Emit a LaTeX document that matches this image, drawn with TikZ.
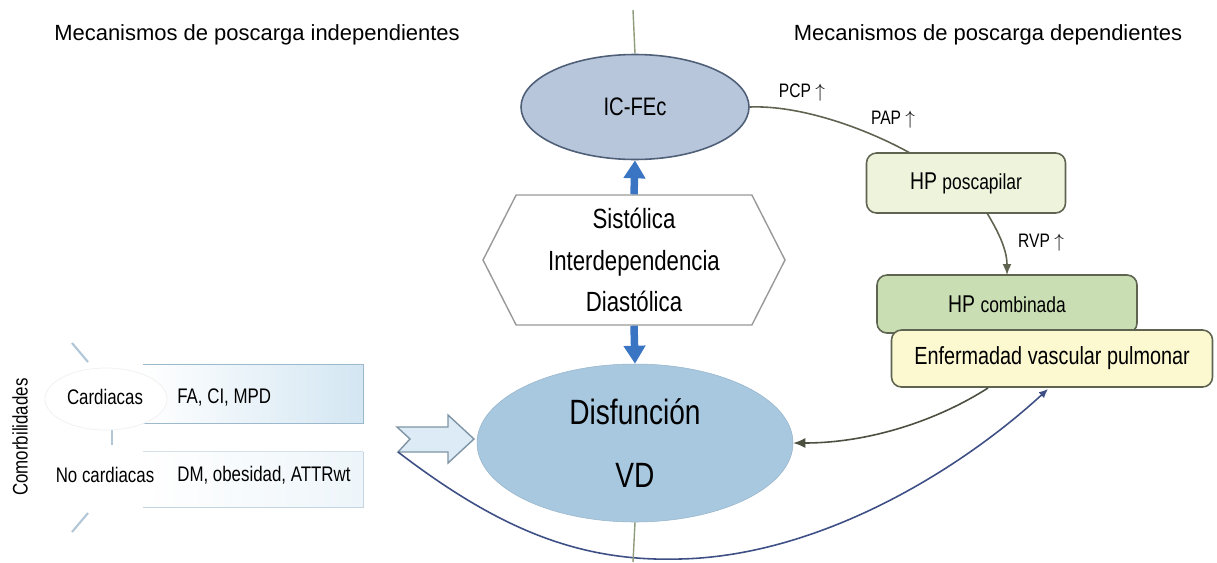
\documentclass[tikz,border=0pt]{standalone}
\usepackage{fontspec}
\setmainfont{Liberation Sans}[FakeStretch=0.8]
\newfontfamily\titlefont{Liberation Sans}
\usetikzlibrary{shapes.geometric,shapes.symbols,arrows.meta,calc}

\definecolor{ovalgrey}{HTML}{B7C6DA}
\definecolor{ovalline}{HTML}{4F5F78}
\definecolor{vdblue}{HTML}{A8C8E0}
\definecolor{thickblue}{HTML}{3A75C4}
\definecolor{axisline}{HTML}{8E9C7C}
\definecolor{paleg}{HTML}{EEF3DC}
\definecolor{midg}{HTML}{C9DFB3}
\definecolor{paley}{HTML}{FCF8D0}
\definecolor{boxline}{HTML}{5E6450}
\definecolor{barblue}{HTML}{D3E6F2}
\definecolor{barline}{HTML}{9DB9CE}
\definecolor{navy}{HTML}{3E4F86}

\begin{document}
\begin{tikzpicture}[x=0.2mm, y=-0.2mm]
    \tikzstyle{every node} = [align=center, inner sep=0pt]
    \tikzstyle{headline} = [font=\titlefont\fontsize{12.5}{15}\selectfont]
    \tikzstyle{hpbox} = [draw=boxline, line width=0.9pt, rounded corners=2mm]
    \tikzstyle{small} = [font=\fontsize{11.1}{13}\selectfont]
    \tikzstyle{side} = [font=\fontsize{12}{14}\selectfont]
    \tikzstyle{bigarrow} = [draw=thickblue, line width=1.5mm, -{Triangle[width=4.2mm,length=3.6mm]}]
    \useasboundingbox (0,0) rectangle (1217,562);

    % titles
    \node [headline] (tindep) at (257,35) {Mecanismos de poscarga independientes};
    \node [headline] (tdep) at (988,35) {Mecanismos de poscarga dependientes};

    % centre column
    \node [ellipse, fill=ovalgrey, draw=ovalline, line width=0.9pt, minimum width=45.6mm, minimum height=21mm,
        font=\fontsize{14.4}{17}\selectfont] (icfec) at (635,107) {IC-FEc};
    \node [signal, signal to=west and east, signal pointer angle=126, draw=gray!80, line width=0.8pt, fill=white,
        minimum width=60.4mm, minimum height=26mm, font=\fontsize{15.8}{23.6}\selectfont] (hexa) at (634,260)
        {Sistólica\\Interdependencia\\Diastólica};
    \node [ellipse, fill=vdblue, draw=vdblue!90!black, line width=0.3pt, minimum width=63.2mm, minimum height=31.6mm,
        font=\fontsize{20}{36}\selectfont] (disf) at (635,443) {Disfunción\\VD};
    \coordinate (topend) at (633,10);
    \coordinate (botend) at (633,562);
    \draw [axisline, line width=0.8pt] (topend) -- (icfec.north);
    \draw [bigarrow] (hexa.north) -- (icfec.south);
    \draw [bigarrow] (hexa.south) -- (disf.north);

    % comorbidities
    \node [rotate=90, side] (comorb) at (20,437) {Comorbilidades};
    \node [minimum width=44mm, minimum height=11.6mm, left color=white, right color=barblue] (bar1) at (253,394) {};
    \node [minimum width=44mm, minimum height=11mm, left color=white, right color=barblue!40] (bar2) at (253,479.5) {};
    \draw [barline, line width=0.9pt] (bar1.north west) -- (bar1.north east) -- (bar1.south east) -- (bar1.south west);
    \draw [barline!45, line width=0.9pt] (bar2.north west) -- (bar2.north east);
    \draw [barline!60, line width=0.9pt] (bar2.north east) -- (bar2.south east) -- (bar2.south west);
    \draw [barline!80, line width=1.2pt] (72,343) -- (88,362);
    \draw [barline!80, line width=1.2pt] (112,430) -- (112,445);
    \draw [barline!80, line width=1.2pt] (72,532) -- (88,513);
    \node [ellipse, fill=white, draw=gray!12, minimum width=24.4mm, minimum height=12.4mm] (cardov) at (106,399) {};
    \node [ellipse, fill=white, minimum width=23.4mm, minimum height=12mm] (nocardov) at (101,482) {};
    \node [side] (card) at (105,397) {Cardiacas};
    \node [side] (nocard) at (105,475) {No cardiacas};
    \node [side, anchor=west] (cardlist) at (177,397) {FA, CI, MPD};
    \node [side, anchor=west] (nocardlist) at (177,475) {DM, obesidad, ATTRwt};

    % hollow arrow into RV dysfunction
    \draw [fill=barblue!80, draw=barline!80!black, line width=0.8pt]
        (397,427) -- (448,427) -- (448,415) -- (474,439) -- (448,463) -- (448,452) -- (398,452) -- (410,439) -- cycle;
    \coordinate (tail) at (398,452);

    % afterload dependent side
    \node [hpbox, fill=paleg, minimum width=39.8mm, minimum height=12mm] (hppos) at (966,183)
        {\fontsize{13.8}{16}\selectfont HP \fontsize{12.4}{15}\selectfont poscapilar};
    \node [hpbox, fill=midg, minimum width=52mm, minimum height=11.6mm] (hpcomb) at (1007,304)
        {\fontsize{13.8}{16}\selectfont HP \fontsize{12.4}{15}\selectfont combinada};
    \node [hpbox, fill=paley, minimum width=64.2mm, minimum height=11.4mm, font=\fontsize{14.1}{17}\selectfont]
        (evp) at (1052,358.5) {Enfermadad vascular pulmonar};
    \coordinate (posin) at (910,153);
    \coordinate (posout) at (987,213);
    \coordinate (combin) at (1007,275);
    \coordinate (evpout) at (988,388);
    \coordinate (evpin) at (1048,389);

    \draw [boxline, line width=0.9pt] (icfec.east) .. controls (800,105) and (865,128) .. (posin);
    \node [small] (pcp) at (802,93) {PCP $\uparrow$};
    \node [small] (pap) at (893,120) {PAP $\uparrow$};
    \draw [boxline, line width=0.9pt, -{Latex[length=2.2mm,width=1.8mm]}]
        (posout) .. controls (996,228) and (1007,248) .. (combin);
    \node [small] (rvp) at (1041,243) {RVP $\uparrow$};
    \draw [boxline!80!black, line width=0.9pt, -{Latex[length=2.4mm,width=2mm]}]
        (evpout) .. controls (938,420) and (870,443) .. (disf.east);

    % loop back from the comorbidities
    \draw [navy, line width=0.9pt, -{Latex[length=1.8mm,width=1.6mm]}]
        (tail) .. controls (500,530) and (580,562) .. (680,559) .. controls (820,556) and (960,470) .. (evpin);
    \draw [axisline, line width=0.8pt] (disf.south) -- (botend);
\end{tikzpicture}
\end{document}
